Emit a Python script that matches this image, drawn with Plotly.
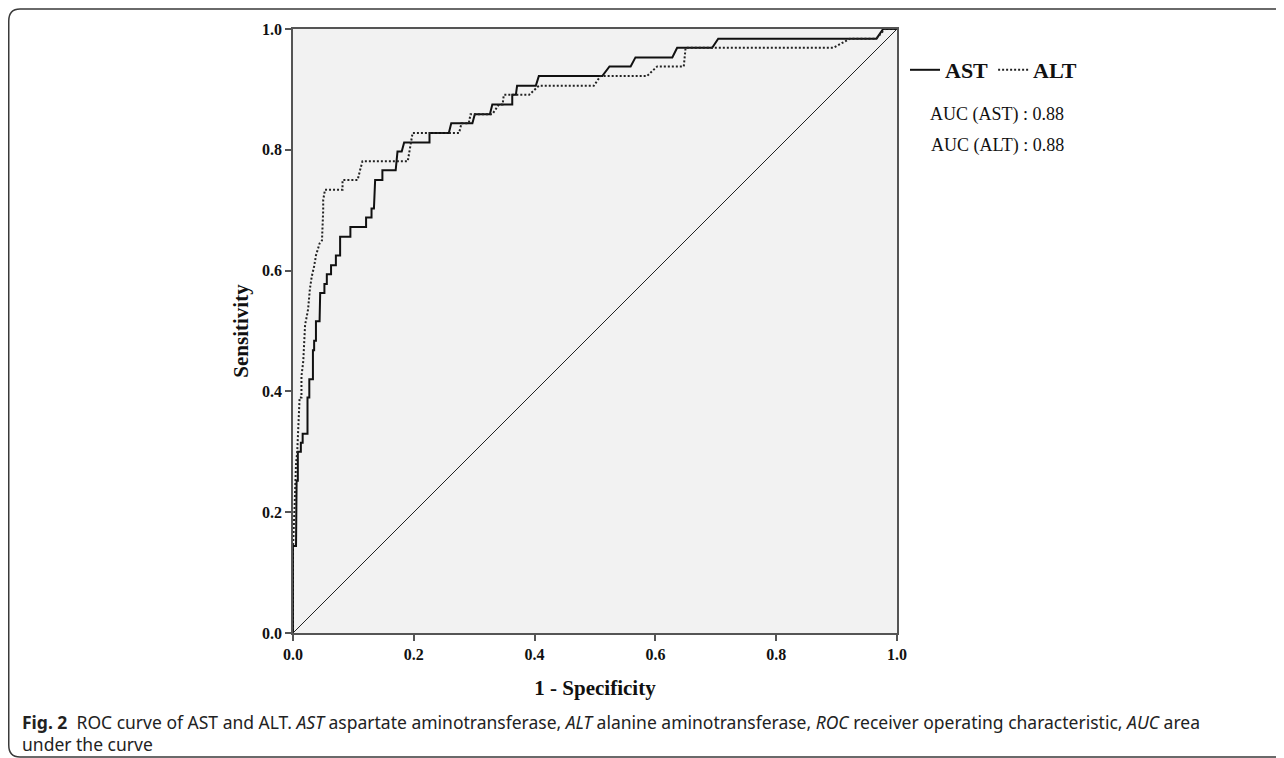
import plotly.graph_objects as go

# ---- data ----
ast_fpr = [0, 0, 0.005, 0.005, 0.006, 0.006, 0.008, 0.008, 0.013, 0.013, 0.016, 0.016,
           0.024, 0.024, 0.027, 0.027, 0.033, 0.033, 0.035, 0.035, 0.038, 0.038, 0.044,
           0.044, 0.045, 0.045, 0.052, 0.052, 0.056, 0.056, 0.063, 0.063, 0.071, 0.071,
           0.078, 0.078, 0.095, 0.095, 0.121, 0.121, 0.130, 0.130, 0.134, 0.136, 0.148,
           0.148, 0.170, 0.173, 0.180, 0.184, 0.226, 0.226, 0.258, 0.262, 0.297, 0.301,
           0.326, 0.330, 0.363, 0.363, 0.369, 0.371, 0.402, 0.407, 0.512, 0.524, 0.559,
           0.567, 0.628, 0.636, 0.694, 0.704, 0.966, 0.977, 1.0]
ast_tpr = [0, 0.144, 0.144, 0.219, 0.219, 0.252, 0.252, 0.300, 0.300, 0.315, 0.315, 0.330,
           0.330, 0.390, 0.390, 0.420, 0.420, 0.468, 0.468, 0.484, 0.484, 0.516, 0.516,
           0.531, 0.531, 0.563, 0.563, 0.578, 0.578, 0.594, 0.594, 0.609, 0.609, 0.625,
           0.625, 0.656, 0.656, 0.672, 0.672, 0.688, 0.688, 0.703, 0.703, 0.750, 0.750,
           0.766, 0.766, 0.797, 0.797, 0.812, 0.812, 0.828, 0.828, 0.844, 0.844, 0.859,
           0.859, 0.875, 0.875, 0.891, 0.891, 0.906, 0.906, 0.922, 0.922, 0.938, 0.938,
           0.953, 0.953, 0.969, 0.969, 0.984, 0.984, 1.0, 1.0]

alt_fpr = [0, 0, 0.003, 0.005, 0.007, 0.008, 0.011, 0.014, 0.014, 0.017, 0.020, 0.022,
           0.025, 0.028, 0.031, 0.035, 0.038, 0.044, 0.048, 0.050, 0.050, 0.053, 0.082,
           0.082, 0.107, 0.111, 0.115, 0.190, 0.193, 0.198, 0.275, 0.279, 0.291, 0.294,
           0.330, 0.341, 0.347, 0.349, 0.391, 0.407, 0.498, 0.509, 0.586, 0.603, 0.647,
           0.650, 0.895, 0.922, 0.966, 0.980, 1.0]
alt_tpr = [0, 0.140, 0.220, 0.280, 0.300, 0.330, 0.390, 0.390, 0.425, 0.450, 0.510, 0.520,
           0.536, 0.570, 0.590, 0.607, 0.625, 0.645, 0.650, 0.700, 0.717, 0.734, 0.734,
           0.750, 0.750, 0.766, 0.781, 0.781, 0.797, 0.828, 0.828, 0.844, 0.844, 0.859,
           0.859, 0.875, 0.875, 0.891, 0.891, 0.906, 0.906, 0.922, 0.922, 0.938, 0.938,
           0.969, 0.969, 0.984, 0.984, 1.0, 1.0]

ref_line = [0, 1]
tick_vals = [0.0, 0.2, 0.4, 0.6, 0.8, 1.0]
tick_text = ["0.0", "0.2", "0.4", "0.6", "0.8", "1.0"]
auc_labels = ["AUC (AST) : 0.88", "AUC (ALT) : 0.88"]

# ---- layout geometry ----
# the page body has an 8px margin, so the figure is 8px smaller than the window
OFF = 8
W, H = 1284 - OFF, 758 - OFF
L, R, T, B = 285, 889, 21, 625      # plot area in figure pixels
pw, ph = R - L, B - T


def px(x):
    """page x pixel -> paper x"""
    return (x - OFF - L) / pw


def py(y):
    """page y pixel -> paper y"""
    return (B - (y - OFF)) / ph


SERIF = "Liberation Serif"
AXC = "#555555"

fig = go.Figure()
fig.add_trace(go.Scatter(x=ref_line, y=ref_line, mode="lines",
                         line=dict(color="#222222", width=1), showlegend=False,
                         hoverinfo="skip"))
fig.add_trace(go.Scatter(x=ast_fpr, y=ast_tpr, mode="lines", name="AST",
                         line=dict(color="#111111", width=2)))
fig.add_trace(go.Scatter(x=alt_fpr, y=alt_tpr, mode="lines", name="ALT",
                         line=dict(color="#222222", width=2, dash="2px,2px")))

axis_common = dict(range=[0, 1], tickvals=tick_vals, ticktext=tick_text,
                   showgrid=False, zeroline=False, showline=True, mirror=True,
                   linecolor=AXC, linewidth=1.5, ticks="outside", ticklen=6,
                   tickcolor=AXC, tickwidth=1.5,
                   tickfont=dict(family=SERIF, size=16, color="#111111", weight="bold"))

fig.update_layout(
    width=W, height=H,
    margin=dict(l=L, r=W - R, t=T, b=H - B),
    paper_bgcolor="white", plot_bgcolor="#f2f2f2",
    xaxis=dict(**axis_common,
               title=dict(text="1 - Specificity", standoff=18,
                          font=dict(family=SERIF, size=21, color="#111111", weight="bold"))),
    yaxis=dict(**axis_common,
               title=dict(text="Sensitivity", standoff=8,
                          font=dict(family=SERIF, size=21, color="#111111", weight="bold"))),
    legend=dict(orientation="h", x=px(905), y=py(70), xanchor="left", yanchor="middle",
                bgcolor="rgba(0,0,0,0)", itemwidth=30, tracegroupgap=0,
                font=dict(family=SERIF, size=22, color="#111111", weight="bold")),
    showlegend=True,
)

for lab, yy in zip(auc_labels, [114, 145]):
    fig.add_annotation(x=px(1066), y=py(yy), xref="paper", yref="paper", text=lab,
                       showarrow=False, xanchor="right", yanchor="middle",
                       font=dict(family=SERIF, size=18, color="#111111"))

cap1 = ("<b>Fig. 2</b>  ROC curve of AST and ALT. <i>AST</i> aspartate aminotransferase, "
        "<i>ALT</i> alanine aminotransferase, <i>ROC</i> receiver operating characteristic, "
        "<i>AUC</i> area")
cap2 = "under the curve"
for txt, yy in [(cap1, 722), (cap2, 744)]:
    fig.add_annotation(x=px(20), y=py(yy), xref="paper", yref="paper", text=txt,
                       showarrow=False, xanchor="left", yanchor="middle",
                       font=dict(family="Noto Sans", size=17.5, color="#222222"))

# rounded frame around the figure
frame = (f"M {px(1300)},{py(9)} L {px(20)},{py(9)} Q {px(8.75)},{py(9)} {px(8.75)},{py(21)} "
         f"L {px(8.75)},{py(745)} Q {px(8.75)},{py(757)} {px(20)},{py(757)} L {px(1300)},{py(757)}")
fig.add_shape(type="path", path=frame, xref="paper", yref="paper",
              line=dict(color="#3a3a3a", width=1.5), layer="above")

fig.write_html("out.html")
